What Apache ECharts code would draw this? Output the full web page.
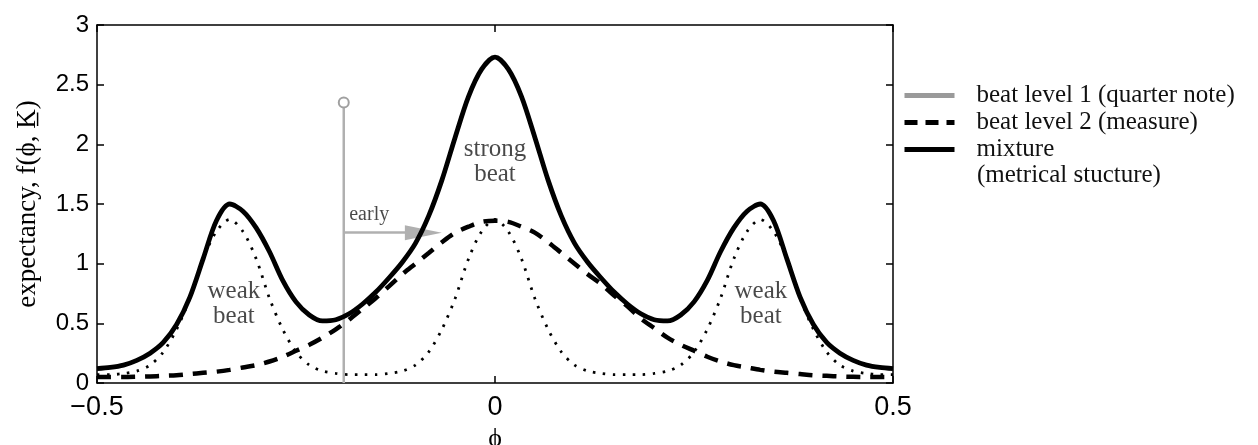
<!DOCTYPE html>
<html><head><meta charset="utf-8">
<script src="https://cdn.jsdelivr.net/npm/echarts@6/dist/echarts.min.js"></script>
<style>html,body{margin:0;padding:0;background:#fff}#c{width:1258px;height:445px}</style>
</head><body><div id="c"></div>
<script>
// phase phi (x)
const phi = [-0.5,-0.4833,-0.4667,-0.45,-0.4333,-0.4167,-0.4,-0.3833,-0.3667,-0.35,-0.3333,-0.3167,-0.3,-0.2833,-0.2667,-0.25,-0.2333,-0.2167,-0.2,-0.1833,-0.1667,-0.15,-0.1333,-0.1167,-0.1,-0.0833,-0.0667,-0.05,-0.0333,-0.0167,0,
  0.0167,0.0333,0.05,0.0667,0.0833,0.1,0.1167,0.1333,0.15,0.1667,0.1833,0.2,0.2167,0.2333,0.25,0.2667,0.2833,0.3,0.3167,0.3333,0.35,0.3667,0.3833,0.4,0.4167,0.4333,0.45,0.4667,0.4833,0.5];
// beat level 1 (quarter note) - dotted
const beatLevel1 = [0.07,0.07,0.08,0.10,0.15,0.26,0.45,0.71,1.04,1.27,1.37,1.27,1.04,0.71,0.45,0.26,0.15,0.10,0.08,0.07,0.07,0.07,0.08,0.10,0.15,0.26,0.45,0.71,1.04,1.27,1.37,
  1.27,1.04,0.71,0.45,0.26,0.15,0.10,0.08,0.07,0.07,0.07,0.08,0.10,0.15,0.26,0.45,0.71,1.04,1.27,1.37,1.27,1.04,0.71,0.45,0.26,0.15,0.10,0.08,0.07,0.07];
// beat level 2 (measure) - dashed
const beatLevel2 = [0.05,0.05,0.05,0.052,0.055,0.06,0.065,0.075,0.085,0.095,0.11,0.13,0.15,0.18,0.22,0.27,0.32,0.38,0.45,0.53,0.62,0.71,0.81,0.91,1.00,1.09,1.18,1.26,1.31,1.35,1.36,
  1.35,1.31,1.26,1.18,1.09,1.00,0.91,0.83,0.73,0.64,0.54,0.46,0.38,0.32,0.27,0.22,0.18,0.15,0.13,0.11,0.095,0.085,0.075,0.065,0.06,0.055,0.052,0.05,0.05,0.05];
// mixture (metrical structure) - solid
const mixture = [0.12,0.13,0.15,0.19,0.25,0.34,0.49,0.72,1.04,1.36,1.50,1.44,1.30,1.10,0.86,0.68,0.57,0.52,0.53,0.58,0.66,0.76,0.88,1.01,1.17,1.40,1.70,2.06,2.40,2.63,2.73,
  2.63,2.40,2.06,1.70,1.40,1.17,1.01,0.88,0.76,0.66,0.58,0.53,0.52,0.57,0.68,0.86,1.10,1.30,1.44,1.50,1.36,1.04,0.72,0.49,0.34,0.25,0.19,0.15,0.13,0.12];

const seriesNames = ['beat level 1 (quarter note)', 'beat level 2 (measure)', 'mixture'];
const legendExtraLine = '(metrical stucture)';
const xTickValues = [-0.5, 0, 0.5];
const xTickLabels = ['−0.5', '0', '0.5'];
const yTickLabels = ['0', '0.5', '1', '1.5', '2', '2.5', '3'];

// "early" marker
const earlyPhi = -0.19;
const earlyTopValue = 2.35;
const earlyArrowValue = 1.26;
const earlyArrowHeadPhi = -0.09;

// text annotations (data units)
const annotationTexts = ['strong\nbeat', 'weak\nbeat', 'weak\nbeat', 'early'];
const annotationPhi = [0, -0.328, 0.334, -0.158];
const annotationValue = [1.85, 0.66, 0.66, 1.41];

const pairs = arr => phi.map((x, i) => [x, arr[i]]);

const chart = echarts.init(document.getElementById('c'));
const serif = 'Liberation Serif';
const sans = 'Liberation Sans';
const axisLine = {show: true, onZero: false, lineStyle: {color: '#000', width: 1.5}};
const tick = {show: true, inside: true, length: 7, lineStyle: {color: '#000', width: 1.5}};

const xFmt = v => { const i = xTickValues.indexOf(v); return i >= 0 ? xTickLabels[i] : ''; };
const yFmt = v => { const i = Math.round(v / 0.5); return yTickLabels[i] ?? ''; };
const noSymbol = {color: 'rgba(0,0,0,0)', borderWidth: 0, opacity: 0};

chart.setOption({
  animation: false,
  backgroundColor: '#fff',
  grid: {left: 97, right: 365, top: 25, bottom: 62, containLabel: false, outerBoundsMode: 'none'},
  legend: {
    orient: 'vertical', left: 897, top: 77, itemWidth: 50, itemHeight: 14, itemGap: 0,
    selectedMode: false,
    textStyle: {fontFamily: serif, fontSize: 25, color: '#111', lineHeight: 27, padding: [0, 0, 0, 17]},
    data: [
      {name: seriesNames[0], lineStyle: {color: '#9a9a9a', width: 5, type: 'solid'}, itemStyle: noSymbol},
      {name: seriesNames[1], lineStyle: {color: '#000', width: 5, type: [13, 8]}, itemStyle: noSymbol},
      {name: seriesNames[2], lineStyle: {color: '#000', width: 5, type: 'solid'}, itemStyle: noSymbol}
    ]
  },
  graphic: [{type: 'text', left: 977, top: 163, style: {text: legendExtraLine, font: '25px "Liberation Serif"', fill: '#111'}}],
  xAxis: [
    {type: 'value', position: 'bottom', min: -0.5, max: 0.5, interval: 0.5,
     axisLine, axisTick: tick, splitLine: {show: false},
     axisLabel: {color: '#000', fontFamily: sans, fontSize: 27, margin: 11, formatter: xFmt},
     name: 'ϕ', nameLocation: 'middle', nameGap: 38,
     nameTextStyle: {fontFamily: serif, fontSize: 26, color: '#000'}},
    {type: 'value', position: 'top', min: -0.5, max: 0.5, interval: 0.5,
     axisLine, axisTick: tick, splitLine: {show: false}, axisLabel: {show: false}}
  ],
  yAxis: [
    {type: 'value', position: 'left', min: 0, max: 3, interval: 0.5,
     axisLine, axisTick: tick, splitLine: {show: false},
     axisLabel: {color: '#000', fontFamily: sans, fontSize: 24, margin: 8, formatter: yFmt},
     name: 'expectancy, f(ϕ, K̲)', nameLocation: 'middle', nameRotate: 90, nameGap: 56,
     nameTextStyle: {fontFamily: serif, fontSize: 27, color: '#000'}},
    {type: 'value', position: 'right', min: 0, max: 3, interval: 0.5,
     axisLine, axisTick: tick, splitLine: {show: false}, axisLabel: {show: false}}
  ],
  series: [
    {name: seriesNames[0], type: 'line', data: pairs(beatLevel1), symbol: 'none', smooth: 0.3, z: 3,
     lineStyle: {color: '#000', width: 2.8, type: [2.5, 7.5]}, itemStyle: {color: '#9a9a9a'}},
    {name: seriesNames[1], type: 'line', data: pairs(beatLevel2), symbol: 'none', smooth: 0.3, z: 4,
     lineStyle: {color: '#000', width: 4.5, type: [14, 10]}, itemStyle: {color: '#000'}},
    {name: seriesNames[2], type: 'line', data: pairs(mixture), symbol: 'none', smooth: 0.3, z: 5,
     lineStyle: {color: '#000', width: 4.8}, itemStyle: {color: '#000'}},
    {name: 'early marker', type: 'line', z: 2, showSymbol: true,
     data: [{value: [earlyPhi, 0], symbol: 'none'}, {value: [earlyPhi, earlyTopValue], symbol: 'circle', symbolSize: 10}],
     lineStyle: {color: '#b0b0b0', width: 2.5}, itemStyle: {color: '#fff', borderColor: '#a0a0a0', borderWidth: 2},
     markLine: {silent: true, symbol: ['none', 'triangle'], symbolSize: [15, 37],
       lineStyle: {color: '#b0b0b0', width: 2.5, type: 'solid'}, label: {show: false},
       data: [[{coord: [earlyPhi, earlyArrowValue]}, {coord: [earlyArrowHeadPhi, earlyArrowValue]}]]}},
    {name: 'annotations', type: 'scatter', symbolSize: 1, itemStyle: {color: 'rgba(0,0,0,0)'}, z: 6,
     data: annotationPhi.map((x, i) => ({value: [x, annotationValue[i]], name: annotationTexts[i],
       label: {fontSize: i === 3 ? 20 : 25, lineHeight: i === 3 ? 20 : 25}})),
     label: {show: true, position: 'inside', formatter: '{b}', fontFamily: serif, color: '#1a1a1a'}}
  ]
});
</script>
</body></html>
